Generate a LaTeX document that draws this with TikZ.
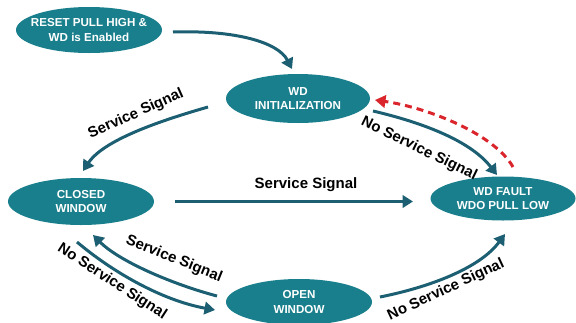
\documentclass[tikz,border=0pt]{standalone}
\usepackage{fontspec}
\setmainfont{Liberation Sans}
\usetikzlibrary{shapes.geometric,arrows.meta,calc}
\definecolor{stateteal}{HTML}{1A7F8C}
\definecolor{flowteal}{HTML}{1C5F73}
\definecolor{faultred}{HTML}{D9252B}
\begin{document}
\begin{tikzpicture}[x=1pt,y=-1pt,
  state/.style={ellipse, fill=stateteal, text=white, minimum width=146pt,
    minimum height=46pt, inner xsep=-25pt, inner ysep=-6pt, align=center,
    font=\fontsize{11.6}{14.3}\selectfont\bfseries},
  flow/.style={draw=flowteal, line width=3pt, -{Triangle[length=10.5pt,width=12.5pt]}},
  retry/.style={draw=faultred, line width=3pt, dash pattern=on 7pt off 5pt,
    -{Triangle[length=10.5pt,width=12.5pt]}},
  lbl/.style={font=\fontsize{15}{18}\selectfont\bfseries, text=black, inner sep=0pt}]
\useasboundingbox (0,0) rectangle (576,322);

% states
\node[state] (reset) at (89,30) {RESET PULL HIGH \&\\WD is Enabled};
\node[state, minimum width=144pt, minimum height=49pt] (init) at (298,98.5) {WD\\INITIALIZATION};
\node[state, minimum height=47pt] (closed) at (81,201.5) {CLOSED\\WINDOW};
\node[state, minimum width=145pt, minimum height=44pt] (fault) at (503,198.5) {WD FAULT\\WDO PULL LOW};
\node[state] (open) at (299,302) {OPEN\\WINDOW};

% transitions
\draw[flow] ($(reset)+(84,2)$) .. controls +(62,-2) and +(-14,-27) .. ($(init)+(-6,-29.5)$);
\draw[flow] ($(init)+(-90,8.5)$) .. controls +(-38,11) and +(22,-33) .. ($(closed)+(2,-30.5)$);
\draw[flow] ($(closed)+(94,0)$) -- ($(fault)+(-90,3)$);
\draw[flow] ($(init)+(75,12.5)$) .. controls +(47,11) and +(-27,-35) .. ($(fault)+(-6,-23.5)$);
\draw[retry] ($(fault)+(10,-31.5)$) .. controls +(-18,-32) and +(55,8) .. ($(init)+(77,1.5)$);
\draw[flow] ($(open)+(-82,-6)$) .. controls +(-42,-11) and +(27,27) .. ($(closed)+(12,33.5)$);
\draw[flow] ($(closed)+(-4,40.5)$) .. controls +(33,28) and +(-55,-10) .. ($(open)+(-84,8)$);
\draw[flow] ($(open)+(81,-5)$) .. controls +(50,-10) and +(-25,34) .. ($(fault)+(2,35.5)$);

% transition labels
\node[lbl, rotate=24] (l1) at (136,114) {Service Signal};
\node[lbl, anchor=base] (l2) at (306,188) {Service Signal};
\node[lbl, rotate=-26] (l3) at (419,149) {No Service Signal};
\node[lbl, rotate=-22] (l4) at (174,259) {Service Signal};
\node[lbl, rotate=-33] (l5) at (112,282) {No Service Signal};
\node[lbl, rotate=25] (l6) at (446,290) {No Service Signal};
\end{tikzpicture}
\end{document}
